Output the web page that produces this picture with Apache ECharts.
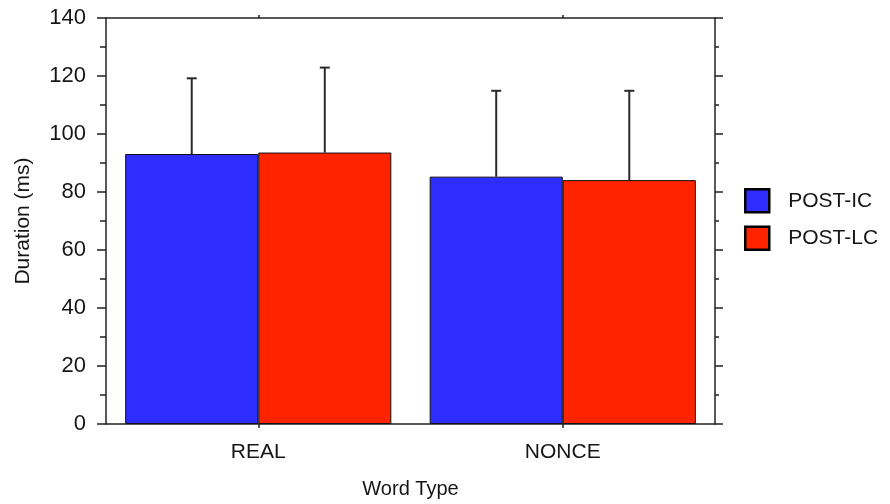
<!DOCTYPE html>
<html>
<head>
<meta charset="utf-8">
<script src="https://cdn.jsdelivr.net/npm/echarts@6/dist/echarts.min.js"></script>
<style>
html,body{margin:0;padding:0;background:#fff;}
#chart{width:890px;height:504px;}
</style>
</head>
<body>
<div id="chart"></div>
<script>
const categories = ['REAL', 'NONCE'];
const seriesNames = ['POST-IC', 'POST-LC'];
const postIC = [93.1, 85.3];
const postLC = [93.6, 84.1];
const postICErr = [26.1, 29.6];
const postLCErr = [29.3, 30.8];
const yTicks = [0, 20, 40, 60, 80, 100, 120, 140];

const FONT = "'Liberation Sans', Arial, Helvetica, sans-serif";
const TXT = '#161616';
const GAP = 0.126;

const chart = echarts.init(document.getElementById('chart'), null, {renderer: 'canvas'});

function errSeries(idx, means, errs) {
  return {
    type: 'custom',
    name: 'err' + idx,
    xAxisIndex: 0, yAxisIndex: 0,
    z: 5,
    data: means.map((m, i) => [i, m, m + errs[i]]),
    renderItem: function (params, api) {
      const ci = api.value(0);
      const band = api.size([1, 0])[0];
      const bw = band * (1 - GAP) / 2;
      const off = (idx === 0 ? -1 : 1) * bw / 2;
      const p0 = api.coord([ci, api.value(1)]);
      const p1 = api.coord([ci, api.value(2)]);
      const x = p0[0] + off;
      const cap = 5;
      const st = {stroke: '#2a2a2a', lineWidth: 2};
      return {
        type: 'group',
        children: [
          {type: 'line', shape: {x1: x, y1: p0[1], x2: x, y2: p1[1]}, style: st},
          {type: 'line', shape: {x1: x - cap, y1: p1[1], x2: x + cap, y2: p1[1]}, style: st}
        ]
      };
    }
  };
}

const option = {
  animation: false,
  backgroundColor: '#fff',
  textStyle: {fontFamily: FONT},
  grid: {left: 106, right: 175, top: 18, bottom: 80, containLabel: false},
  legend: {
    orient: 'vertical',
    left: 744, top: 188,
    padding: 0,
    itemWidth: 24, itemHeight: 23,
    itemGap: 12,
    icon: 'rect',
    data: seriesNames,
    textStyle: {fontFamily: FONT, fontSize: 21, color: TXT, padding: [0, 0, 0, 14]},
    itemStyle: {borderColor: '#000', borderWidth: 2.5}
  },
  xAxis: [{
    type: 'category',
    data: categories,
    position: 'bottom',
    name: 'Word Type',
    nameLocation: 'middle',
    nameGap: 55,
    nameTextStyle: {fontFamily: FONT, fontSize: 20, color: TXT},
    axisLine: {onZero: false, lineStyle: {color: '#222', width: 1.5}},
    axisTick: {show: true, alignWithLabel: true, interval: 0, length: 4, lineStyle: {color: '#222', width: 1.5}},
    axisLabel: {fontFamily: FONT, fontSize: 21, color: TXT, margin: 18},
    splitLine: {show: false}
  }, {
    type: 'category',
    data: categories,
    position: 'top',
    axisLine: {onZero: false, lineStyle: {color: '#222', width: 1.5}},
    axisTick: {show: true, alignWithLabel: true, interval: 0, length: 3, lineStyle: {color: '#222', width: 1.5}},
    axisLabel: {show: false},
    splitLine: {show: false}
  }],
  yAxis: [{
    type: 'value',
    min: 0, max: 140, interval: 20,
    position: 'left',
    name: 'Duration (ms)',
    nameLocation: 'middle',
    nameGap: 72,
    nameRotate: 90,
    nameTextStyle: {fontFamily: FONT, fontSize: 21, color: TXT},
    axisLine: {show: true, onZero: false, lineStyle: {color: '#222', width: 1.5}},
    axisTick: {show: true, length: 9, lineStyle: {color: '#222', width: 1.5}},
    minorTick: {show: true, splitNumber: 2, length: 6, lineStyle: {color: '#222', width: 1.5}},
    axisLabel: {fontFamily: FONT, fontSize: 22, color: TXT, margin: 20,
      formatter: v => (yTicks.indexOf(v) >= 0 ? String(v) : '')},
    splitLine: {show: false}
  }, {
    type: 'value',
    min: 0, max: 140, interval: 20,
    position: 'right',
    axisLine: {show: true, onZero: false, lineStyle: {color: '#222', width: 1.5}},
    axisTick: {show: true, length: 8, lineStyle: {color: '#222', width: 1.5}},
    minorTick: {show: true, splitNumber: 2, length: 4, lineStyle: {color: '#222', width: 1.5}},
    axisLabel: {show: false},
    splitLine: {show: false}
  }],
  series: [{
    name: seriesNames[0],
    type: 'bar',
    data: postIC,
    barGap: '0%',
    barCategoryGap: (GAP * 100) + '%',
    itemStyle: {color: '#2d2dff', borderColor: '#111', borderWidth: 1}
  }, {
    name: seriesNames[1],
    type: 'bar',
    data: postLC,
    barGap: '0%',
    barCategoryGap: (GAP * 100) + '%',
    itemStyle: {color: '#ff2300', borderColor: '#111', borderWidth: 1}
  },
  errSeries(0, postIC, postICErr),
  errSeries(1, postLC, postLCErr)]
};
chart.setOption(option);
</script>
</body>
</html>
